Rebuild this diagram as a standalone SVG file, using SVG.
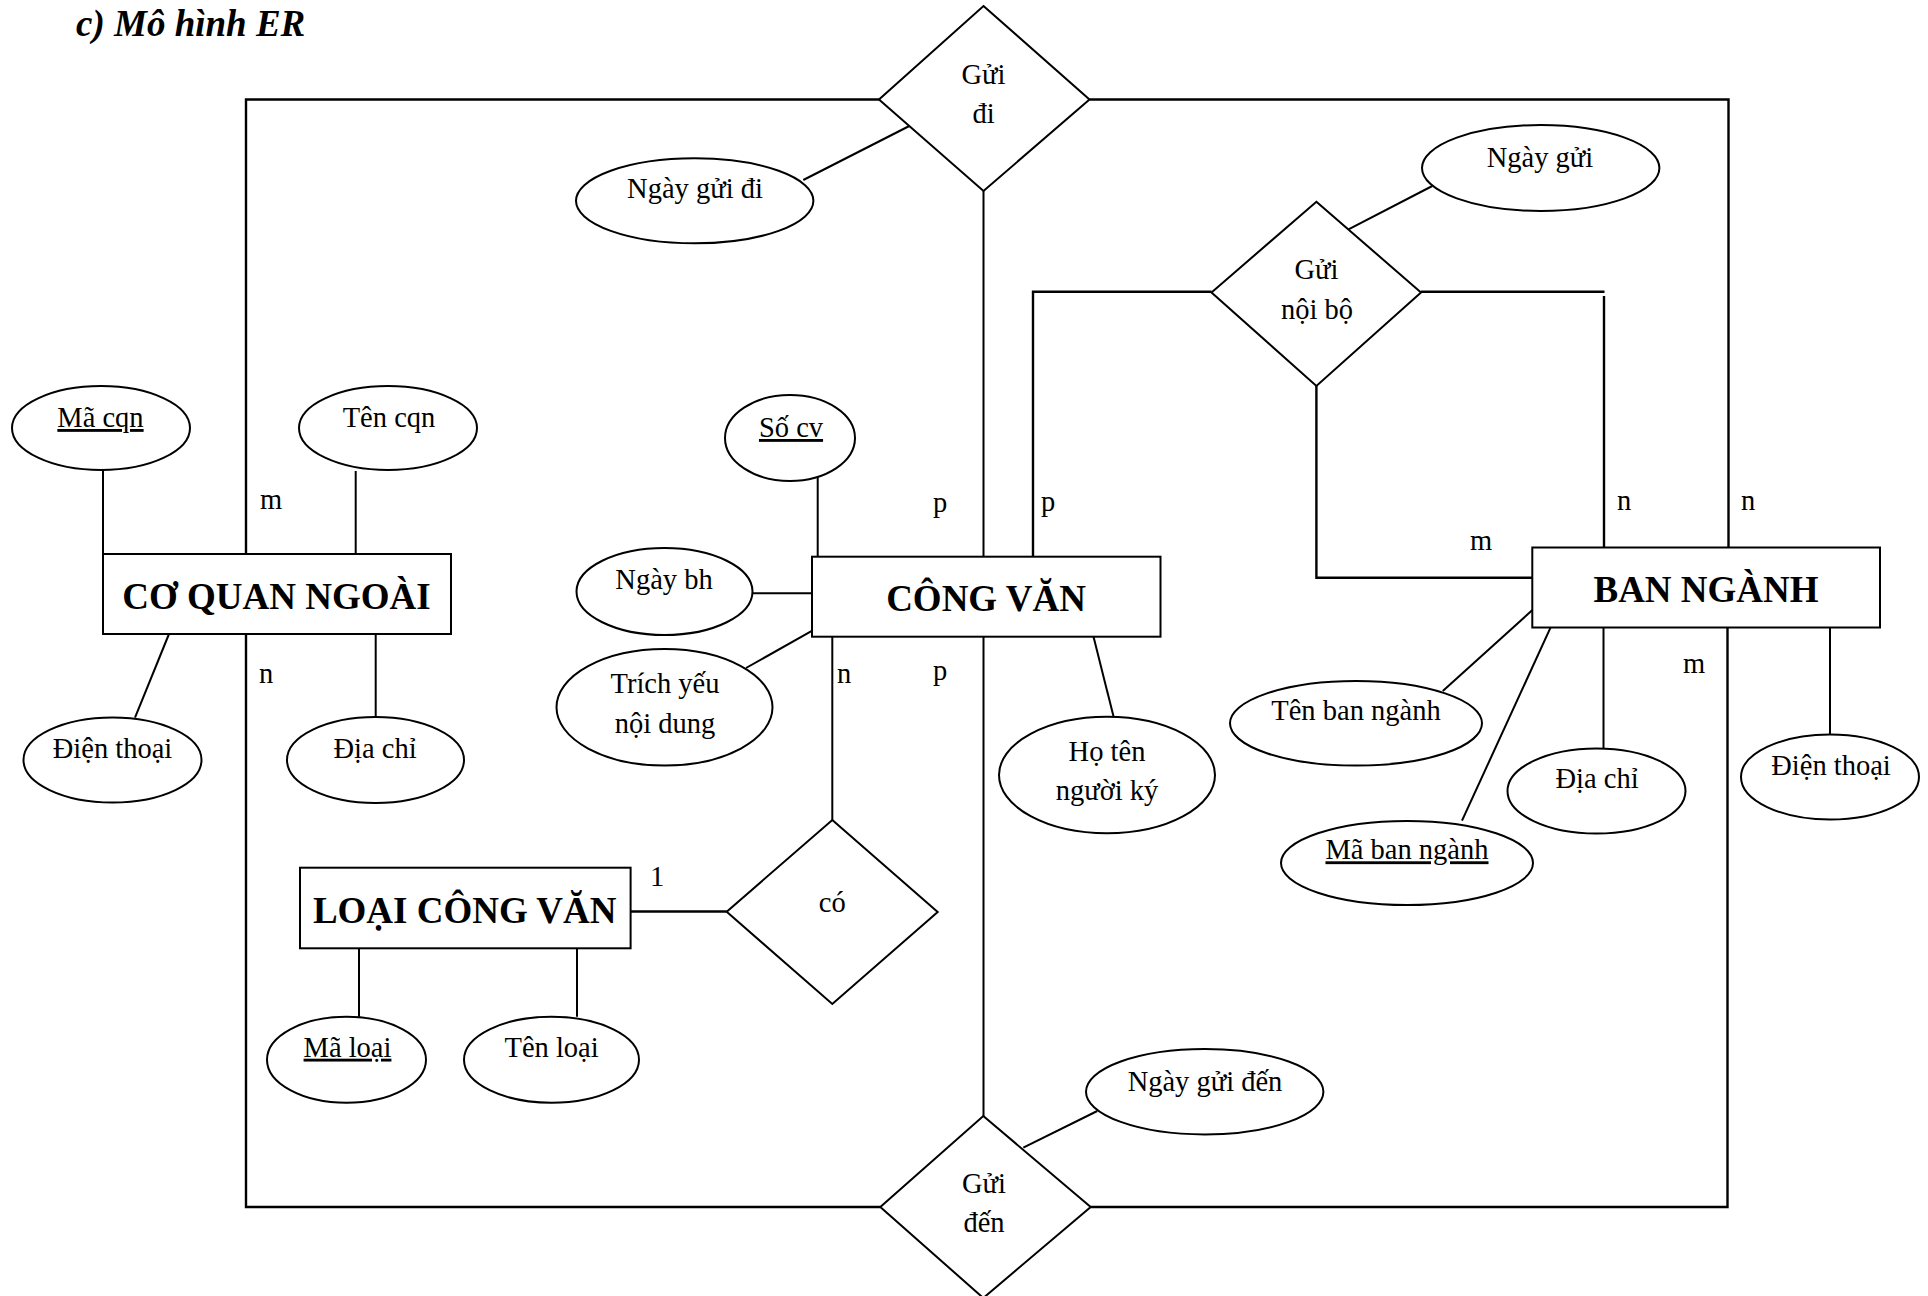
<svg xmlns="http://www.w3.org/2000/svg" width="1928" height="1296" viewBox="0 0 1928 1296">
<style>
  .bg { fill: #ffffff; }
  .shape { fill: #ffffff; stroke: #000000; stroke-width: 2; }
  .line { fill: none; stroke: #000000; stroke-width: 2; }
  .frame { fill: none; stroke: #000000; stroke-width: 2.4; }
  .t { font-family: "Liberation Serif", "Times New Roman", serif; font-size: 28.5px; fill: #000000; text-anchor: middle; }
  .lbl { font-family: "Liberation Serif", "Times New Roman", serif; font-size: 28.5px; fill: #000000; }
  .ent { font-family: "Liberation Serif", "Times New Roman", serif; font-size: 37px; font-weight: bold; fill: #000000; text-anchor: middle; }
  .key { text-decoration: underline; }
  .title { font-family: "Liberation Serif", "Times New Roman", serif; font-size: 37px; font-weight: bold; font-style: italic; fill: #000000; }
</style>
<rect class="bg" x="0" y="0" width="1928" height="1296"/>

<text class="title" x="76" y="36">c) Mô hình ER</text>

<!-- connectors -->
<g id="connectors">
  <!-- outer frame -->
  <polyline class="frame" points="879,99.5 246,99.5 246,554"/>
  <polyline class="frame" points="1089.5,99.5 1728.5,99.5 1728.5,547.5"/>
  <polyline class="frame" points="246,628 246,1207 880,1207"/>
  <polyline class="frame" points="1090.5,1207 1727.5,1207 1727.5,627.5"/>
  <line class="line" x1="983.5" y1="191" x2="983.5" y2="556.5"/>
  <line class="line" x1="983.5" y1="636.5" x2="983.5" y2="1116"/>
  <!-- Gửi nội bộ -->
  <polyline class="frame" points="1211.5,291.7 1033,291.7 1033,556.5"/>
  <line class="frame" x1="1421" y1="291.7" x2="1604.5" y2="291.7"/>
  <line class="frame" x1="1604" y1="296" x2="1604" y2="555"/>
  <polyline class="frame" points="1316.4,386 1316.4,577.7 1532.3,577.7"/>
  <!-- có -->
  <line class="line" x1="832.3" y1="636.5" x2="832.3" y2="820"/>
  <line class="frame" x1="726.7" y1="911.5" x2="630.6" y2="911.5"/>
  <!-- attributes -->
  <line class="line" x1="909.3" y1="126" x2="803.3" y2="180"/>
  <line class="line" x1="1432.3" y1="186" x2="1348.5" y2="229.3"/>
  <line class="line" x1="103" y1="470" x2="103" y2="554"/>
  <line class="line" x1="355.7" y1="471" x2="355.7" y2="554"/>
  <line class="line" x1="169" y1="634" x2="135" y2="717.7"/>
  <line class="line" x1="375.7" y1="634" x2="375.7" y2="716.7"/>
  <line class="line" x1="817.7" y1="476.7" x2="817.7" y2="560"/>
  <line class="line" x1="752.5" y1="593.3" x2="812" y2="593.3"/>
  <line class="line" x1="812.3" y1="630.7" x2="746" y2="668"/>
  <line class="line" x1="1093.5" y1="636.7" x2="1113.6" y2="716.7"/>
  <line class="line" x1="1532.4" y1="610" x2="1442.8" y2="691"/>
  <line class="line" x1="1550.5" y1="627.7" x2="1462" y2="820.7"/>
  <line class="line" x1="1603.5" y1="627.7" x2="1603.5" y2="748.3"/>
  <line class="line" x1="1830" y1="627.7" x2="1830" y2="734.3"/>
  <line class="line" x1="359" y1="948" x2="359" y2="1016.7"/>
  <line class="line" x1="577" y1="948" x2="577" y2="1016.7"/>
  <line class="line" x1="1023.3" y1="1147.7" x2="1097.3" y2="1111"/>
  <!-- cardinalities -->
  <text class="lbl" x="260" y="509">m</text>
  <text class="lbl" x="259" y="683">n</text>
  <text class="lbl" x="933" y="512">p</text>
  <text class="lbl" x="1041" y="511">p</text>
  <text class="lbl" x="837" y="683">n</text>
  <text class="lbl" x="933" y="680">p</text>
  <text class="lbl" x="1617" y="510">n</text>
  <text class="lbl" x="1741" y="510">n</text>
  <text class="lbl" x="1470" y="550">m</text>
  <text class="lbl" x="1683" y="673">m</text>
  <text class="lbl" x="650" y="886">1</text>
</g>

<!-- relationships -->
<g id="rel-gui-di">
  <polygon class="shape" points="983.5,6 1089.5,99.5 983.5,191 879,99.5"/>
  <text class="t" x="983.5" y="84">Gửi</text>
  <text class="t" x="983.5" y="123">đi</text>
</g>
<g id="rel-gui-noi-bo">
  <polygon class="shape" points="1316.4,201.7 1421,292.5 1316.4,386 1211.5,292.5"/>
  <text class="t" x="1316.5" y="279">Gửi</text>
  <text class="t" x="1317" y="319">nội bộ</text>
</g>
<g id="rel-co">
  <polygon class="shape" points="832.3,820 937.7,912 832.3,1004 726.7,911.7"/>
  <text class="t" x="832.3" y="912">có</text>
</g>
<g id="rel-gui-den">
  <polygon class="shape" points="983.3,1116 1090.7,1207 983.3,1298 880.3,1207"/>
  <text class="t" x="984" y="1193">Gửi</text>
  <text class="t" x="984" y="1232">đến</text>
</g>

<!-- entities -->
<g id="ent-co-quan-ngoai">
  <rect class="shape" x="103" y="554" width="348" height="80"/>
  <text class="ent" x="276.5" y="609">CƠ QUAN NGOÀI</text>
</g>
<g id="ent-cong-van">
  <rect class="shape" x="812" y="556.7" width="348.5" height="80"/>
  <text class="ent" x="986" y="610.5">CÔNG VĂN</text>
</g>
<g id="ent-ban-nganh">
  <rect class="shape" x="1532.3" y="547.5" width="347.7" height="80"/>
  <text class="ent" x="1706" y="601.5">BAN NGÀNH</text>
</g>
<g id="ent-loai-cong-van">
  <rect class="shape" x="300" y="867.7" width="330.6" height="80.6"/>
  <text class="ent" x="464.7" y="922.5">LOẠI CÔNG VĂN</text>
</g>

<!-- attributes -->
<g id="attr-ngay-gui-di">
  <ellipse class="shape" cx="694.7" cy="200.8" rx="118.7" ry="42.5"/>
  <text class="t" x="695" y="198.3">Ngày gửi đi</text>
</g>
<g id="attr-ngay-gui">
  <ellipse class="shape" cx="1540.7" cy="168" rx="118.7" ry="43"/>
  <text class="t" x="1540" y="166.7">Ngày gửi</text>
</g>
<g id="attr-ma-cqn">
  <ellipse class="shape" cx="101" cy="428" rx="89" ry="42"/>
  <text class="t key" x="100.5" y="427">Mã cqn</text>
</g>
<g id="attr-ten-cqn">
  <ellipse class="shape" cx="388" cy="428" rx="89" ry="42"/>
  <text class="t" x="389" y="427">Tên cqn</text>
</g>
<g id="attr-dien-thoai-cqn">
  <ellipse class="shape" cx="112.5" cy="760" rx="89" ry="42.5"/>
  <text class="t" x="112.5" y="757.7">Điện thoại</text>
</g>
<g id="attr-dia-chi-cqn">
  <ellipse class="shape" cx="375.5" cy="760" rx="88.5" ry="43"/>
  <text class="t" x="375" y="757.7">Địa chỉ</text>
</g>
<g id="attr-so-cv">
  <ellipse class="shape" cx="790" cy="438" rx="65" ry="43"/>
  <text class="t key" x="791" y="437">Số cv</text>
</g>
<g id="attr-ngay-bh">
  <ellipse class="shape" cx="664.5" cy="591.5" rx="88" ry="43.5"/>
  <text class="t" x="664" y="589">Ngày bh</text>
</g>
<g id="attr-trich-yeu">
  <ellipse class="shape" cx="664.5" cy="707.3" rx="108" ry="58.3"/>
  <text class="t" x="665" y="693">Trích yếu</text>
  <text class="t" x="665" y="732.7">nội dung</text>
</g>
<g id="attr-ho-ten">
  <ellipse class="shape" cx="1107" cy="775" rx="108" ry="58.3"/>
  <text class="t" x="1107" y="761">Họ tên</text>
  <text class="t" x="1107" y="800">người ký</text>
</g>
<g id="attr-ten-ban-nganh">
  <ellipse class="shape" cx="1356" cy="723.3" rx="126" ry="42.3"/>
  <text class="t" x="1356" y="720">Tên ban ngành</text>
</g>
<g id="attr-ma-ban-nganh">
  <ellipse class="shape" cx="1407" cy="863" rx="126" ry="42"/>
  <text class="t key" x="1407" y="859.3">Mã ban ngành</text>
</g>
<g id="attr-dia-chi-bn">
  <ellipse class="shape" cx="1596.5" cy="791" rx="89" ry="42.5"/>
  <text class="t" x="1597" y="788">Địa chỉ</text>
</g>
<g id="attr-dien-thoai-bn">
  <ellipse class="shape" cx="1830" cy="777" rx="89" ry="42.5"/>
  <text class="t" x="1831" y="775">Điện thoại</text>
</g>
<g id="attr-ma-loai">
  <ellipse class="shape" cx="346.5" cy="1059.7" rx="79.5" ry="43"/>
  <text class="t key" x="347.5" y="1056.7">Mã loại</text>
</g>
<g id="attr-ten-loai">
  <ellipse class="shape" cx="551.5" cy="1059.7" rx="87.5" ry="43"/>
  <text class="t" x="551.6" y="1056.7">Tên loại</text>
</g>
<g id="attr-ngay-gui-den">
  <ellipse class="shape" cx="1204.7" cy="1091.7" rx="118.7" ry="42.7"/>
  <text class="t" x="1205" y="1091">Ngày gửi đến</text>
</g>
</svg>
